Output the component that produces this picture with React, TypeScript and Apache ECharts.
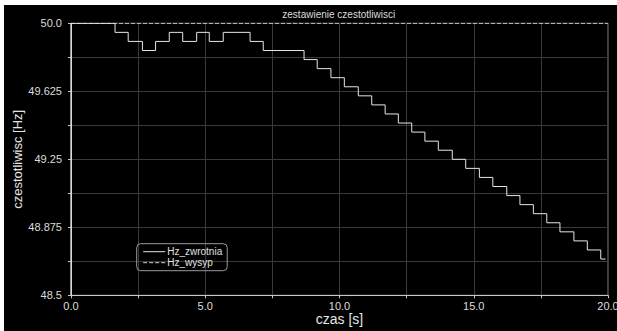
import React, { useEffect, useRef } from "react";
import * as echarts from "echarts";

const titleText = "zestawienie czestotliwisci";
const xAxisName = "czas [s]";
const yAxisName = "czestotliwisc [Hz]";
const seriesNames = ["Hz_zwrotnia", "Hz_wysyp"];

// Hz_zwrotnia: step signal (time [s], frequency [Hz]); each value holds until the next time
const zwrotniaTime = [
  0, 0, 1.64, 2.13, 2.66, 3.15, 3.66, 4.16, 4.68, 5.15, 5.67, 6.67, 7.16, 8.68,
  9.17, 9.68, 10.18, 10.7, 11.2, 11.7, 12.19, 12.69, 13.18, 13.68, 14.2, 14.7,
  15.21, 15.71, 16.23, 16.72, 17.22, 17.72, 18.21, 18.73, 19.23, 19.73, 19.91,
];
const zwrotniaHz = [
  48.5, 50.0, 49.95, 49.9, 49.85, 49.9, 49.95, 49.9, 49.95, 49.9, 49.95, 49.9,
  49.85, 49.8, 49.75, 49.7, 49.65, 49.6, 49.55, 49.5, 49.45, 49.4, 49.35, 49.3,
  49.25, 49.2, 49.15, 49.1, 49.05, 49.0, 48.95, 48.9, 48.85, 48.8, 48.75, 48.7,
  48.7,
];

// Hz_wysyp: constant
const wysypTime = [0, 20];
const wysypHz = [50.0, 50.0];

const xMin = 0;
const xMax = 20;
const xStep = 2.5;
const xLabelEvery = 5;
const yMin = 48.5;
const yMax = 50.0;
const yStep = 0.1875;
const yLabelEvery = 0.375;

const FONT = "'Liberation Sans', Arial, Helvetica, sans-serif";

export default function App() {
  const ref = useRef<HTMLDivElement>(null);

  useEffect(() => {
    if (!ref.current) return;
    const chart = echarts.init(ref.current, undefined, { renderer: "svg" });

    const zData = zwrotniaTime.map((t, i) => [t, zwrotniaHz[i]]);
    const wData = wysypTime.map((t, i) => [t, wysypHz[i]]);

    const isMultiple = (v: number, step: number) =>
      Math.abs(v / step - Math.round(v / step)) < 1e-6;
    const fmt = (v: number) =>
      Number.isInteger(v) ? v.toFixed(1) : String(+v.toFixed(4));

    chart.setOption({
      animation: false,
      backgroundColor: "#000000",
      textStyle: { fontFamily: FONT },
      title: {
        text: titleText,
        left: 334.7,
        textAlign: "center",
        top: 4,
        padding: 0,
        textStyle: { color: "#dddddd", fontSize: 10, fontWeight: "normal", fontFamily: FONT },
      },
      legend: {
        orient: "vertical",
        left: 132.7,
        top: 238.7,
        padding: [3, 5, 3, 6],
        itemWidth: 22,
        itemHeight: 10,
        itemGap: 1,
        borderColor: "#9a9a9a",
        borderWidth: 1,
        borderRadius: 4,
        data: seriesNames,
        itemStyle: { opacity: 0 },
        lineStyle: { width: 1 },
        textStyle: { color: "#e0e0e0", fontSize: 10, fontFamily: FONT, padding: [0, 0, 0, -3] },
      },
      grid: {
        left: 67,
        right: 9,
        top: 18.3,
        bottom: 35.7,
        outerBoundsMode: "none",
        containLabel: false,
        show: true,
        borderColor: "#808080",
        borderWidth: 1,
        backgroundColor: "transparent",
      },
      xAxis: {
        type: "value",
        min: xMin,
        max: xMax,
        interval: xStep,
        name: xAxisName,
        nameLocation: "middle",
        nameGap: 17,
        nameMoveOverlap: false,
        nameTextStyle: { color: "#e6e6e6", fontSize: 14, fontFamily: FONT },
        axisLine: { show: true, onZero: false, lineStyle: { color: "#c8c8c8", width: 1 } },
        axisTick: { show: true, length: 3, lineStyle: { color: "#c8c8c8" } },
        axisLabel: {
          color: "#dddddd",
          fontSize: 11,
          margin: 5,
          fontFamily: FONT,
          formatter: (v: number) => (isMultiple(v, xLabelEvery) ? fmt(v) : ""),
        },
        splitLine: { show: true, lineStyle: { color: "#3a3a3a", width: 1 } },
      },
      yAxis: {
        type: "value",
        min: yMin,
        max: yMax,
        interval: yStep,
        offset: 3,
        name: yAxisName,
        nameLocation: "middle",
        nameRotate: 90,
        nameGap: 44,
        nameMoveOverlap: false,
        nameTextStyle: { color: "#e6e6e6", fontSize: 13, fontFamily: FONT },
        axisLine: { show: true, lineStyle: { color: "#c8c8c8", width: 1 } },
        axisTick: { show: true, length: 3, lineStyle: { color: "#c8c8c8" } },
        axisLabel: {
          color: "#dddddd",
          fontSize: 11,
          margin: 6,
          fontFamily: FONT,
          formatter: (v: number) =>
            isMultiple(v - yMin, yLabelEvery) ? fmt(v) : "",
        },
        splitLine: { show: true, lineStyle: { color: "#3a3a3a", width: 1 } },
      },
      series: [
        {
          name: seriesNames[1],
          type: "line",
          data: wData,
          symbol: "none",
          z: 2,
          lineStyle: { color: "#d0d0d0", width: 1, type: [4, 2] },
          itemStyle: { color: "#d0d0d0" },
        },
        {
          name: seriesNames[0],
          type: "line",
          step: "end",
          data: zData,
          symbol: "none",
          z: 3,
          lineStyle: { color: "#e6e6e6", width: 1 },
          itemStyle: { color: "#e6e6e6" },
        },
      ],
    });

    return () => chart.dispose();
  }, []);

  return (
    <div
      style={{
        position: "absolute",
        left: 0,
        top: 0,
        width: 617,
        height: 331,
        background: "#ffffff",
        overflow: "hidden",
      }}
    >
      <div
        ref={ref}
        style={{ position: "absolute", left: 4, top: 5, width: 613, height: 326 }}
      />
    </div>
  );
}
